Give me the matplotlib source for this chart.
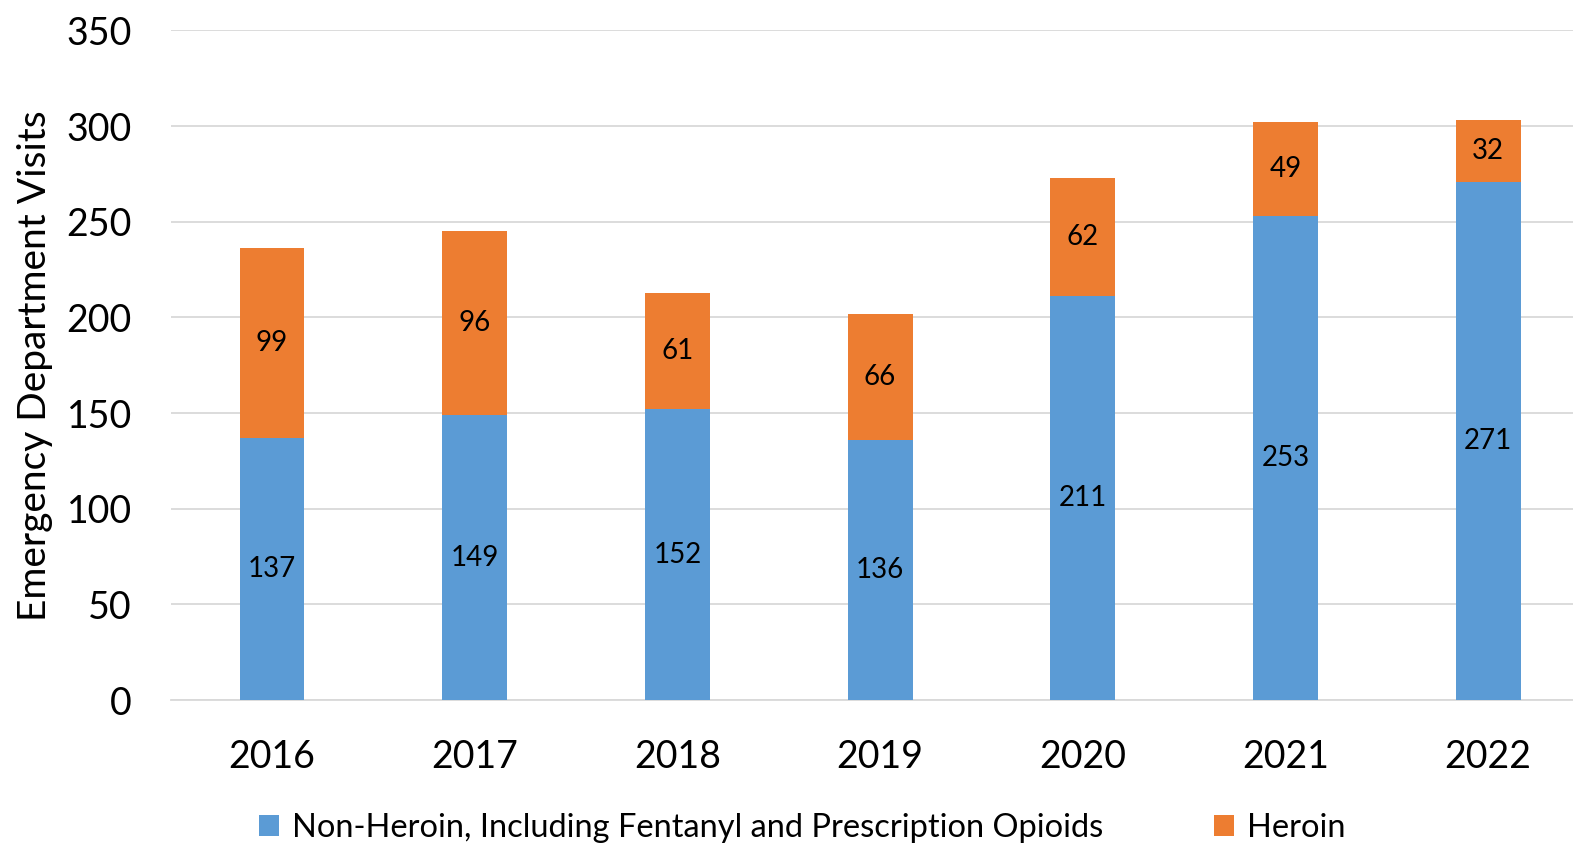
import matplotlib.pyplot as plt
import numpy as np

years = ['2016', '2017', '2018', '2019', '2020', '2021', '2022']
non_heroin = [137, 149, 152, 136, 211, 253, 271]
heroin = [99, 96, 61, 66, 62, 49, 32]

plt.rcParams['font.family'] = ['Lato', 'DejaVu Sans']

fig = plt.figure(figsize=(15.73, 8.43), dpi=100)
ax = fig.add_axes([0.1085, 0.1695, 0.902, 0.7945])

x = np.arange(len(years))
width = 0.32
b1 = ax.bar(x, non_heroin, width, color='#5B9BD5',
            label='Non-Heroin, Including Fentanyl and Prescription Opioids', zorder=3)
b2 = ax.bar(x, heroin, width, bottom=non_heroin, color='#ED7D31',
            label='Heroin', zorder=3)

ax.bar_label(b1, labels=[str(v) for v in non_heroin], label_type='center', fontsize=20)
ax.bar_label(b2, labels=[str(v) for v in heroin], label_type='center', fontsize=20)

ax.set_ylim(0, 350)
ax.set_yticks(range(0, 351, 50))
ax.set_xlim(-0.5, 6.5)
ax.set_xticks(x)
ax.set_xticklabels(years)
ax.tick_params(axis='both', length=0, labelsize=27)
ax.tick_params(axis='x', pad=28)
ax.tick_params(axis='y', pad=28)
ax.grid(axis='y', color='#D9D9D9', linewidth=1.3, zorder=0)
for s in ['top', 'right', 'left']:
    ax.spines[s].set_visible(False)
ax.spines['bottom'].set_color('#D9D9D9')
ax.spines['bottom'].set_linewidth(1.3)

ax.set_ylabel('Emergency Department Visits', fontsize=28, labelpad=10)

fig.legend(loc='lower center', bbox_to_anchor=(0.51, -0.035), ncol=2, frameon=False,
           fontsize=23.5, handlelength=0.6, handleheight=0.6, handletextpad=0.4,
           columnspacing=3.4)

plt.savefig('out.png', dpi=100)
